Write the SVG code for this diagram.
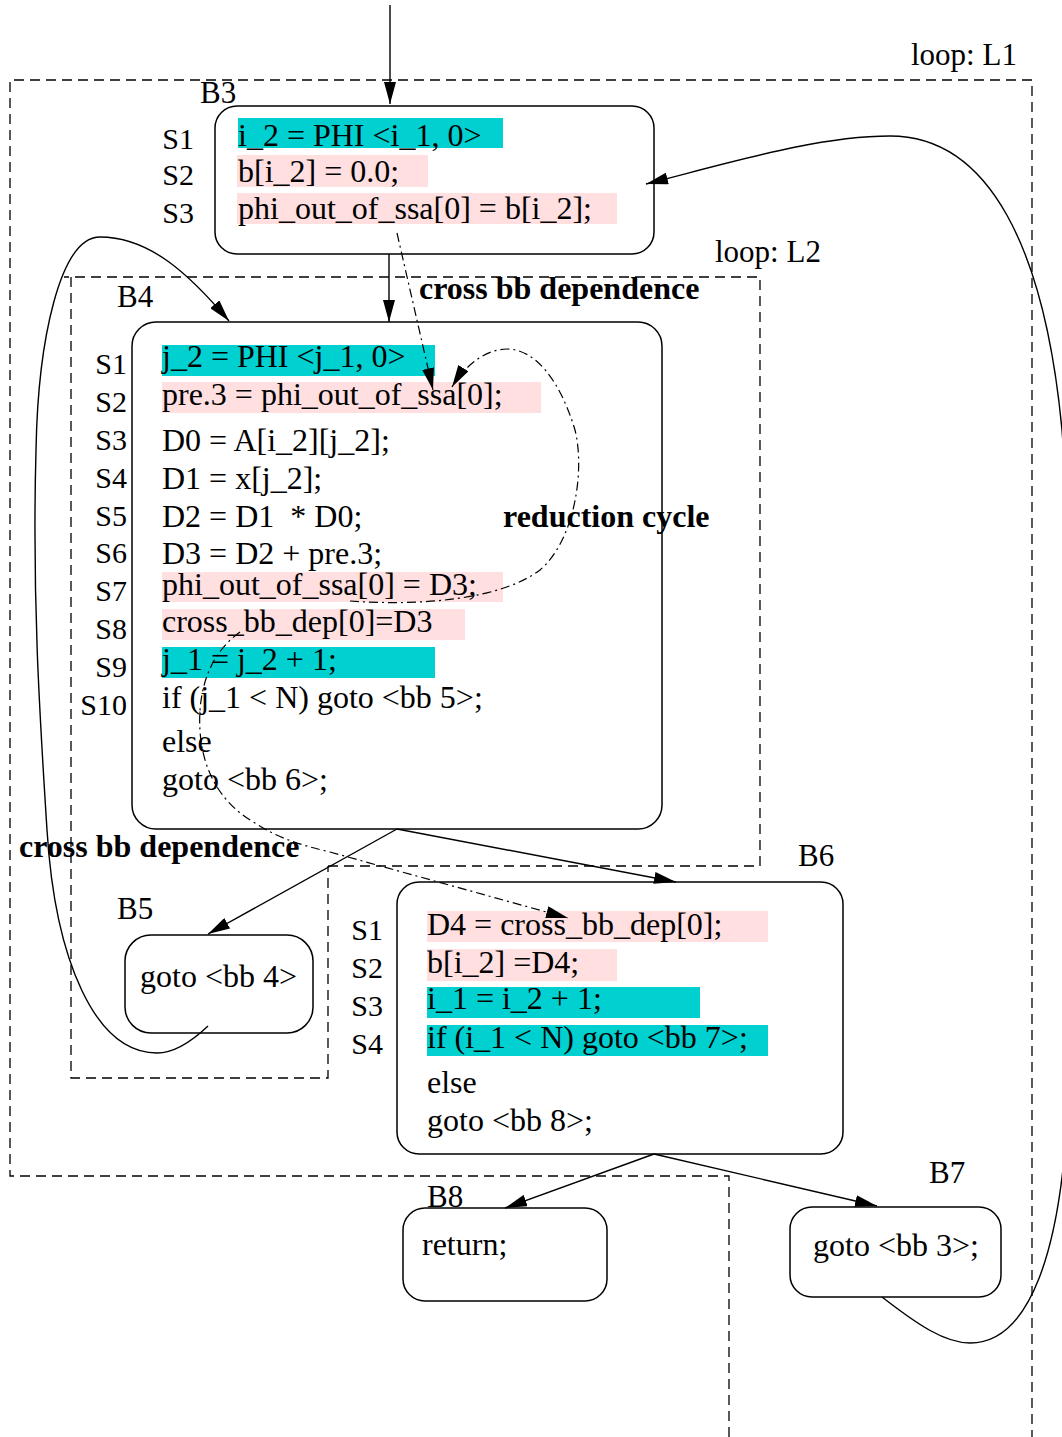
<svg xmlns="http://www.w3.org/2000/svg" width="1062" height="1437" viewBox="0 0 1062 1437">
  <style>
    text { font-family: "Liberation Serif", "Times New Roman", serif; fill: #000; }
    .code { font-size: 32px; }
    .sl { font-size: 30px; text-anchor: end; }
    .bl { font-size: 31px; }
    .bold { font-size: 32px; font-weight: bold; }
    .box { fill: none; stroke: #000; stroke-width: 1.5; }
    .loop { fill: none; stroke: #000; stroke-width: 1.3; stroke-dasharray: 10 6; }
    .edge { fill: none; stroke: #000; stroke-width: 1.4; marker-end: url(#arrow); }
    .dep { fill: none; stroke: #000; stroke-width: 1.2; stroke-dasharray: 9 4 2 4; marker-end: url(#arrow); }
    .cyan { fill: #00d0d0; }
    .pink { fill: #ffdfe0; }
  </style>
  <defs>
    <marker id="arrow" viewBox="0 0 22 12" refX="22" refY="6" markerWidth="22" markerHeight="12" markerUnits="userSpaceOnUse" orient="auto">
      <path d="M0,0 L22,6 L0,12 z" fill="#000"/>
    </marker>
  </defs>

  <!-- loop regions -->
  <g id="loops">
    <path class="loop" d="M729,1437 L729,1176 L10,1176 L10,80 L1032,80 L1032,1437"/>
    <text class="bl" x="911" y="65">loop: L1</text>
    <path class="loop" d="M328,866 L760,866 L760,277 L64,277 M71,277 L71,1078 L328,1078 L328,866"/>
    <text class="bl" x="715" y="262">loop: L2</text>
  </g>

  <!-- B3 -->
  <g id="B3">
    <text class="bl" x="200" y="103">B3</text>
    <rect class="box" x="215" y="106" width="439" height="148" rx="22"/>
    <rect class="cyan" x="238" y="118" width="265" height="30"/>
    <rect class="pink" x="237" y="155" width="191" height="32"/>
    <rect class="pink" x="237" y="193" width="380" height="31"/>
    <text class="sl" x="194" y="149">S1</text>
    <text class="sl" x="194" y="185">S2</text>
    <text class="sl" x="194" y="223">S3</text>
    <text class="code" x="238" y="146">i_2 = PHI &lt;i_1, 0&gt;</text>
    <text class="code" x="238" y="182">b[i_2] = 0.0;</text>
    <text class="code" x="238" y="219">phi_out_of_ssa[0] = b[i_2];</text>
  </g>

  <!-- B4 -->
  <g id="B4">
    <text class="bl" x="117" y="307">B4</text>
    <rect class="box" x="132" y="322" width="530" height="507" rx="24"/>
    <rect class="cyan" x="162" y="345" width="273" height="31"/>
    <rect class="pink" x="162" y="382" width="379" height="31"/>
    <rect class="pink" x="162" y="572" width="341" height="30"/>
    <rect class="pink" x="162" y="609" width="303" height="31"/>
    <rect class="cyan" x="162" y="647" width="273" height="31"/>
    <text class="sl" x="127" y="374">S1</text>
    <text class="sl" x="127" y="412">S2</text>
    <text class="sl" x="127" y="450">S3</text>
    <text class="sl" x="127" y="488">S4</text>
    <text class="sl" x="127" y="526">S5</text>
    <text class="sl" x="127" y="563">S6</text>
    <text class="sl" x="127" y="601">S7</text>
    <text class="sl" x="127" y="639">S8</text>
    <text class="sl" x="127" y="677">S9</text>
    <text class="sl" x="127" y="715">S10</text>
    <text class="code" x="162" y="367">j_2 = PHI &lt;j_1, 0&gt;</text>
    <text class="code" x="162" y="405">pre.3 = phi_out_of_ssa[0];</text>
    <text class="code" x="162" y="451">D0 = A[i_2][j_2];</text>
    <text class="code" x="162" y="489">D1 = x[j_2];</text>
    <text class="code" x="162" y="527">D2 = D1 &#160;* D0;</text>
    <text class="code" x="162" y="564">D3 = D2 + pre.3;</text>
    <text class="code" x="162" y="595">phi_out_of_ssa[0] = D3;</text>
    <text class="code" x="162" y="632">cross_bb_dep[0]=D3</text>
    <text class="code" x="162" y="670">j_1 = j_2 + 1;</text>
    <text class="code" x="162" y="708">if (j_1 &lt; N) goto &lt;bb 5&gt;;</text>
    <text class="code" x="162" y="752">else</text>
    <text class="code" x="162" y="790">goto &lt;bb 6&gt;;</text>
  </g>

  <!-- B5 -->
  <g id="B5">
    <text class="bl" x="117" y="919">B5</text>
    <rect class="box" x="125" y="935" width="188" height="98" rx="26"/>
    <text class="code" x="140" y="987">goto &lt;bb 4&gt;</text>
  </g>

  <!-- B6 -->
  <g id="B6">
    <text class="bl" x="798" y="866">B6</text>
    <rect class="box" x="397" y="882" width="446" height="272" rx="22"/>
    <rect class="pink" x="427" y="911" width="341" height="31"/>
    <rect class="pink" x="427" y="949" width="190" height="32"/>
    <rect class="cyan" x="427" y="987" width="273" height="31"/>
    <rect class="cyan" x="427" y="1025" width="341" height="31"/>
    <text class="sl" x="383" y="940">S1</text>
    <text class="sl" x="383" y="978">S2</text>
    <text class="sl" x="383" y="1016">S3</text>
    <text class="sl" x="383" y="1054">S4</text>
    <text class="code" x="427" y="935">D4 = cross_bb_dep[0];</text>
    <text class="code" x="427" y="973">b[i_2] =D4;</text>
    <text class="code" x="427" y="1009">i_1 = i_2 + 1;</text>
    <text class="code" x="427" y="1048">if (i_1 &lt; N) goto &lt;bb 7&gt;;</text>
    <text class="code" x="427" y="1093">else</text>
    <text class="code" x="427" y="1131">goto &lt;bb 8&gt;;</text>
  </g>

  <!-- B7 -->
  <g id="B7">
    <text class="bl" x="929" y="1183">B7</text>
    <rect class="box" x="790" y="1207" width="211" height="90" rx="22"/>
    <text class="code" x="813" y="1256">goto &lt;bb 3&gt;;</text>
  </g>

  <!-- B8 -->
  <g id="B8">
    <text class="bl" x="427" y="1207">B8</text>
    <rect class="box" x="403" y="1208" width="204" height="93" rx="22"/>
    <text class="code" x="422" y="1255">return;</text>
  </g>

  <!-- control-flow and dependence edges -->
  <g id="edges">
    <path class="edge" d="M390,5 L390,104"/>
    <path class="edge" d="M389,254 L389,322"/>
    <path class="edge" d="M397,829 L208,934"/>
    <path class="edge" d="M397,829 L676,882"/>
    <path class="edge" d="M654,1154 L505,1208"/>
    <path class="edge" d="M654,1154 L877,1206"/>
    <path class="edge" d="M208,1026 C188,1045 172,1053 157,1053 C95,1053 55,960 47,830 C40,720 32,600 36,450 C38,340 60,237 100,237 C150,237 190,275 229,321"/>
    <path class="edge" d="M882,1297 C918,1325 945,1343 970,1343 C1030,1343 1062,1250 1068,1100 C1075,900 1075,600 1062,430 C1045,250 990,136 890,136 C820,136 740,160 646,184"/>
    <path class="dep" d="M397,233 L433,390"/>
    <path class="dep" d="M350,601 C420,606 500,600 540,570 C575,540 585,470 575,430 C560,380 535,349 507,349 C487,349 466,364 452,387"/>
    <path class="dep" d="M240,632 C218,648 203,672 200,710 C197,760 215,800 255,823 C278,838 300,845 330,852 L568,918"/>
    <text class="bold" x="419" y="299">cross bb dependence</text>
    <text class="bold" x="503" y="527">reduction cycle</text>
    <text class="bold" x="19" y="857">cross bb dependence</text>
  </g>
</svg>
